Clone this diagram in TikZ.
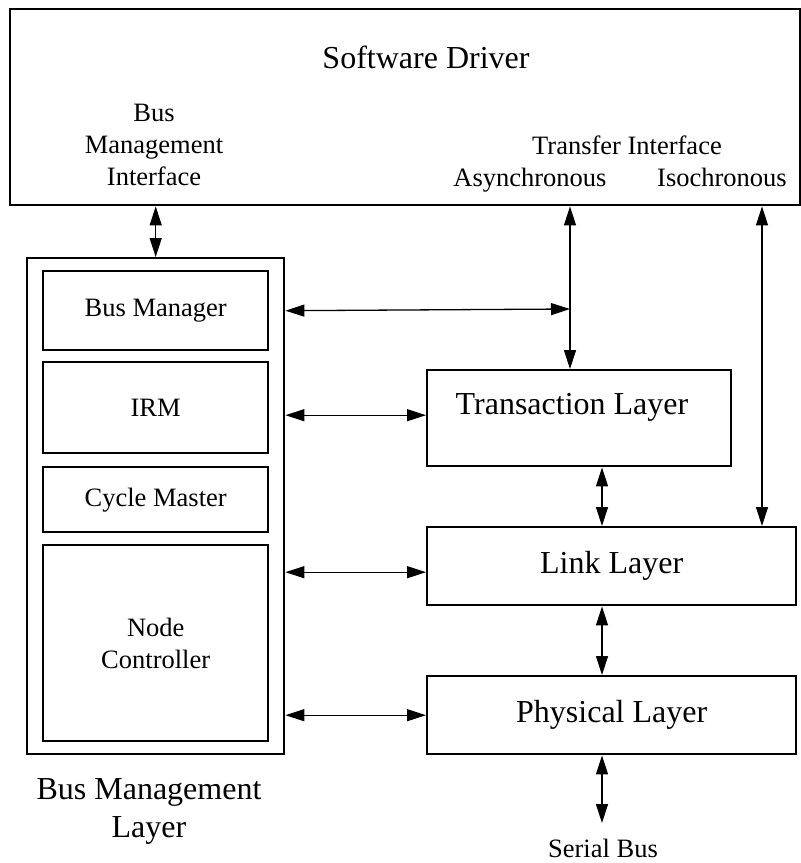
\documentclass[tikz,border=0pt]{standalone}
\usepackage{fontspec}
\setmainfont{Liberation Serif}
\usetikzlibrary{arrows.meta}
\begin{document}
\begin{tikzpicture}[x=1pt,y=-1pt,
  box/.style={draw, line width=2.4pt, inner sep=0pt, anchor=north west},
  big/.style={font=\fontsize{32}{38}\selectfont, align=center},
  small/.style={font=\fontsize{26.5}{32}\selectfont, align=center},
  link/.style={line width=1.3pt, {Triangle[length=19pt,width=12pt]}-{Triangle[length=19pt,width=12pt]}},
]
\useasboundingbox (0,0) rectangle (801,863);

% software driver
\node[box, minimum width=790pt, minimum height=196pt] (drv) at (9,8) {};
\node[big] (drvt) at (426,57) {Software Driver};
\node[small] (bmi) at (154,145) {Bus\\Management\\Interface};
\node[small, anchor=base] (tfi) at (627,154) {Transfer Interface};
\node[small, anchor=base] (asy) at (530,186) {Asynchronous};
\node[small, anchor=base] (iso) at (722,186) {Isochronous};

% bus management layer
\node[box, minimum width=257pt, minimum height=496pt] (bml) at (26,257) {};
\node[box, small, minimum width=225pt, minimum height=79pt] (bm) at (42,270) {Bus Manager};
\node[box, small, minimum width=225pt, minimum height=91pt] (irm) at (42,361) {IRM};
\node[box, small, minimum width=225pt, minimum height=65pt] (cm) at (42,466) {Cycle Master};
\node[box, small, minimum width=225pt, minimum height=196pt] (nc) at (42,544) {Node\\Controller};
\node[big] (bmlt) at (149,811) {Bus Management\\Layer};

% protocol layers
\node[box, minimum width=304pt, minimum height=96pt] (tl) at (426,369) {};
\node[big] (tlt) at (572,407) {Transaction Layer};
\node[box, big, minimum width=369pt, minimum height=78pt] (ll) at (426,526) {Link Layer};
\node[box, big, minimum width=369pt, minimum height=78pt] (pl) at (426,675) {Physical Layer};
\node[small, anchor=base] (sb) at (603,857) {Serial Bus};

% connector columns
\coordinate (ax) at (570,309);
\coordinate (ix) at (762,0);
\coordinate (cx) at (602,0);
\coordinate (sbend) at (602,823);

% connectors
\draw[link] (drv.south -| bml.north) -- (bml.north);
\draw[link] (drv.south -| ax) -- (tl.north -| ax);
\draw[link] (bm.east -| bml.east) -- (ax);
\draw[link] ([yshift=3pt]bml.east |- tl.west) -- ([yshift=3pt]tl.west);
\draw[link] ([yshift=-6pt]bml.east |- ll.west) -- ([yshift=-6pt]ll.west);
\draw[link] (bml.east |- pl.west) -- (pl.west);
\draw[link] (drv.south -| ix) -- (ll.north -| ix);
\draw[link] (tl.south -| cx) -- (ll.north -| cx);
\draw[link] (ll.south -| cx) -- (pl.north -| cx);
\draw[link] (pl.south -| cx) -- (sbend);
\end{tikzpicture}
\end{document}
